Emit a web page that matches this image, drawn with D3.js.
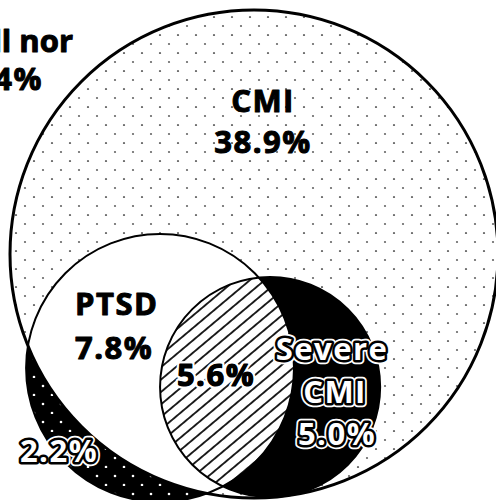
<!DOCTYPE html>
<html>
<head>
<meta charset="utf-8">
<script src="https://cdn.jsdelivr.net/npm/d3@7/dist/d3.min.js"></script>
<style>
html, body { margin: 0; padding: 0; background: #fff; overflow: hidden; }
svg { display: block; }
.lbl { font-family: "Open Sans", sans-serif; font-weight: 700; font-size: 31px; letter-spacing: 1.5px; }
</style>
</head>
<body>
<script>
// sets of the diagram
var setNames = ["CMI", "PTSD", "Severe CMI"];

// regions and their share (%)
var regionNames = ["Neither", "CMI", "PTSD", "PTSD + severe CMI", "Severe CMI", "PTSD without CMI"];
var regionValues = [40.4, 38.9, 7.8, 5.6, 5.0, 2.2];

// label text per region (lines), "{v}" is replaced by the value
var regionLabels = [
    ["Not mentally ill nor", "PTSD {v}"],
    ["CMI", "{v}"],
    ["PTSD", "{v}"],
    ["{v}"],
    ["Severe", "CMI", "{v}"],
    ["{v}"]
];

// ---- layout (venn units, CMI radius = 100) ----
var circleLayout = [
    { cx: 0, cy: 0, r: 100 },
    { cx: -38.5, cy: 46.7, r: 54.9 },
    { cx: 6.6, cy: 54.5, r: 45.1 }
];

// label anchors in pixels
var labelLayout = [
    { x: [73, 43], y: 52, dy: 38, anchor: "end", style: "plain", ls: [0, 1.5] },
    { x: [263], y: 112, dy: 41, anchor: "middle", style: "plain" },
    { x: [75], y: 315, dy: 44, anchor: "start", style: "plain" },
    { x: [216], y: 386, dy: 0, anchor: "middle", style: "halo" },
    { x: [332, 335, 337], y: 360, dy: 42.5, anchor: "middle", style: "inv" },
    { x: [59], y: 462, dy: 0, anchor: "middle", style: "inv" }
];

var width = 496, height = 500;

var x = d3.scaleLinear().domain([-100, 100]).range([10, 498]);
var y = d3.scaleLinear().domain([-100, 100]).range([10, 498]);
var rad = function(r) { return x(r) - x(0); };

var svg = d3.select("body").append("svg")
    .attr("width", width).attr("height", height);

var defs = svg.append("defs");

// grey dots on white
var pDots = defs.append("pattern").attr("id", "dots")
    .attr("patternUnits", "userSpaceOnUse")
    .attr("width", 18).attr("height", 18);
pDots.append("rect").attr("width", 18).attr("height", 18).attr("fill", "#fff");
pDots.append("circle").attr("cx", 7).attr("cy", 8).attr("r", 1.1).attr("fill", "#666");
pDots.append("circle").attr("cx", 16).attr("cy", 17).attr("r", 1.1).attr("fill", "#666");

// white dots on black
var pInv = defs.append("pattern").attr("id", "dotsInv")
    .attr("patternUnits", "userSpaceOnUse")
    .attr("width", 18).attr("height", 18);
pInv.append("rect").attr("width", 18).attr("height", 18).attr("fill", "#000");
pInv.append("circle").attr("cx", 7).attr("cy", 8).attr("r", 1.3).attr("fill", "#fff");
pInv.append("circle").attr("cx", 16).attr("cy", 17).attr("r", 1.3).attr("fill", "#fff");

// diagonal hatch
var hs = 9.5;
var pHatch = defs.append("pattern").attr("id", "hatch")
    .attr("patternUnits", "userSpaceOnUse")
    .attr("width", hs).attr("height", hs)
    .attr("patternTransform", "rotate(-40)");
pHatch.append("rect").attr("width", hs).attr("height", hs).attr("fill", "#fff");
pHatch.append("line").attr("x1", -1).attr("x2", hs + 1)
    .attr("y1", hs / 2).attr("y2", hs / 2)
    .attr("stroke", "#000").attr("stroke-width", 1.7);

// clip paths for each set
circleLayout.forEach(function(c, i) {
    defs.append("clipPath").attr("id", "clip" + i)
        .append("circle")
        .attr("cx", x(c.cx)).attr("cy", y(c.cy)).attr("r", rad(c.r));
});

function disk(i, fill, clip) {
    var c = circleLayout[i];
    var el = svg.append("circle")
        .attr("class", "set-" + setNames[i].replace(/\s/g, ""))
        .attr("cx", x(c.cx)).attr("cy", y(c.cy)).attr("r", rad(c.r))
        .attr("fill", fill);
    if (clip != null) el.attr("clip-path", "url(#clip" + clip + ")");
    return el;
}

// fills
disk(0, "url(#dots)");          // CMI only
disk(1, "url(#dotsInv)");       // PTSD outside CMI
disk(1, "#fff", 0);             // PTSD inside CMI
disk(2, "#000");                // severe CMI
disk(2, "url(#hatch)", 1);      // severe CMI with PTSD

// outlines
var strokeW = [3, 2, 2];
circleLayout.forEach(function(c, i) {
    svg.append("circle")
        .attr("cx", x(c.cx)).attr("cy", y(c.cy)).attr("r", rad(c.r))
        .attr("fill", "none").attr("stroke", "#000")
        .attr("stroke-width", strokeW[i]);
});

// labels
var fmt = function(v) { return d3.format(".1f")(v) + "%"; };

function addText(lx, ly, anchor, txt, fill, stroke, sw, order, ls) {
    var t = svg.append("text").attr("class", "lbl")
        .attr("x", lx).attr("y", ly).attr("text-anchor", anchor)
        .attr("fill", fill)
        .text(txt);
    if (ls != null) t.style("letter-spacing", ls + "px");
    if (stroke) {
        t.attr("stroke", stroke).attr("stroke-width", sw)
            .attr("stroke-linejoin", "round");
        if (order) t.attr("paint-order", "stroke");
    }
    return t;
}

regionLabels.forEach(function(lines, i) {
    var L = labelLayout[i];
    lines.forEach(function(t, j) {
        var txt = t.replace("{v}", fmt(regionValues[i]));
        var lx = L.x[Math.min(j, L.x.length - 1)];
        var ly = L.y + j * L.dy;
        var ls = L.ls ? L.ls[j] : null;
        if (L.style == "inv") {
            addText(lx, ly, L.anchor, txt, "#fff", "#fff", 8.5, true, ls);
            addText(lx, ly, L.anchor, txt, "#fff", "#000", 5, true, ls);
        } else if (L.style == "halo") {
            addText(lx, ly, L.anchor, txt, "#000", "#fff", 5.5, true, ls);
            addText(lx, ly, L.anchor, txt, "#000", "#000", 1, false, ls);
        } else {
            addText(lx, ly, L.anchor, txt, "#000", "#000", 1, false, ls);
        }
    });
});
</script>
</body>
</html>
